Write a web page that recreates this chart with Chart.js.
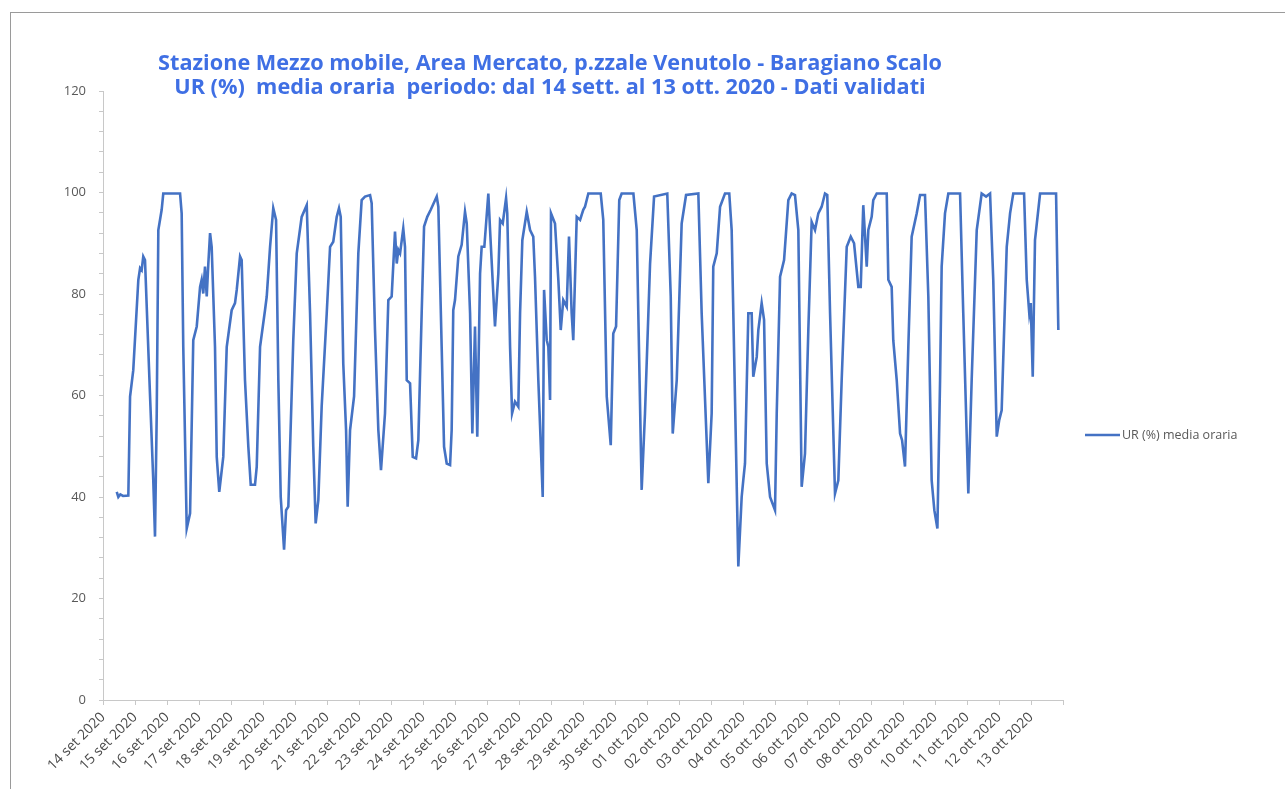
<!DOCTYPE html>
<html lang="it">
<head>
<meta charset="UTF-8" />
<title>UR (%) media oraria - Baragiano Scalo</title>
<script src="https://cdn.jsdelivr.net/npm/chart.js"></script>
<style>
  html, body { margin: 0; padding: 0; background: #fff; overflow: hidden; }
  #wrap { position: relative; width: 1285px; height: 789px; }
  #bordo { position: absolute; left: 10px; top: 12px; width: 1300px; height: 800px;
           border-top: 1px solid #9a9a9a; border-left: 1px solid #9a9a9a; pointer-events: none; }
</style>
</head>
<body>
<div id="wrap">
  <canvas id="grafico" width="1285" height="789"></canvas>
  <div id="bordo"></div>
</div>

<script>
// etichette giornaliere asse x (una ogni 24 ore)
const giorni = [
  "14 set 2020", "15 set 2020", "16 set 2020", "17 set 2020", "18 set 2020", "19 set 2020",
  "20 set 2020", "21 set 2020", "22 set 2020", "23 set 2020", "24 set 2020", "25 set 2020",
  "26 set 2020", "27 set 2020", "28 set 2020", "29 set 2020", "30 set 2020", "01 ott 2020",
  "02 ott 2020", "03 ott 2020", "04 ott 2020", "05 ott 2020", "06 ott 2020", "07 ott 2020",
  "08 ott 2020", "09 ott 2020", "10 ott 2020", "11 ott 2020", "12 ott 2020", "13 ott 2020"
];

// ore dall'inizio del 14 set (vertici)
const ore = [
  10.3, 11.5, 13, 15, 19, 20.3, 22.7, 26.5, 27.8, 29.0, 30.2, 31.5, 35.3, 37.7, 39.0, 40.3, 41.5, 44.0, 45.2, 57.8,
  59.0, 60.2, 62.8, 65.3, 67.7, 70.3, 72.8, 74.0, 75.2, 76.5, 77.8, 79.0, 80.3, 81.5, 84.0, 85.3, 87.2, 90.2, 92.8, 96.5,
  99.0, 100.3, 102.8, 104.0, 106.5, 109.0, 110.8, 114.0, 115.3, 117.8, 121.5, 122.8, 125.3, 127.7, 129.8, 131.5, 133.3, 135.8, 137.3, 139.0,
  142.7, 145.3, 149.0, 152.8, 155.3, 157.7, 159.5, 161.5, 164.0, 167.8, 170.3, 172.7, 175.3, 177.0, 178.3, 180.2, 182.3, 183.5, 185.3, 188.3,
  191.5, 194.0, 196.5, 200.3, 201.5, 204.0, 206.5, 208.5, 211.5, 214.0, 216.5, 219.0, 220.3, 221.5, 222.8, 225.2, 226.5, 227.8, 230.3, 232.3,
  234.8, 236.5, 239.0, 240.8, 243.2, 245.8, 250.3, 251.5, 254.0, 255.8, 257.8, 260.3, 261.5, 262.7, 264.0, 266.5, 269.0, 271.5, 272.8, 275.3,
  277.0, 279.0, 280.7, 282.8, 284.0, 286.0, 289.0, 290.3, 294.0, 296.5, 297.8, 299.8, 302.3, 303.2, 305.3, 306.8, 309.0, 311.5, 312.8, 314.5,
  317.8, 320.3, 322.7, 324.0, 326.5, 329.8, 330.8, 332.8, 334.0, 335.3, 336.0, 339.0, 341.5, 343.3, 345.2, 347.8, 349.5, 351.5, 352.7, 355.3,
  357.8, 360.2, 361.5, 364.0, 373.3, 375.2, 377.8, 380.8, 382.7, 384.8, 387.2, 389.0, 397.8, 400.3, 404.0, 406.5, 410.3, 413.3, 423.2, 425.8,
  427.3, 430.3, 434.0, 437.3, 446.5, 449.0, 454.0, 456.5, 457.7, 460.3, 462.8, 466.5, 469.7, 471.5, 476.5, 479.0, 480.2, 481.5, 484.0, 486.5,
  487.7, 490.3, 491.5, 494.0, 495.8, 497.8, 500.3, 504.0, 505.3, 507.8, 510.8, 514.0, 516.5, 519.0, 521.5, 524.0, 526.5, 529.0, 531.5, 534.0,
  536.5, 539.0, 541.5, 543.2, 545.3, 549.0, 551.5, 554.0, 557.8, 560.8, 563.3, 566.5, 568.3, 570.2, 572.8, 574.0, 576.5, 577.7, 580.3, 587.8,
  589.0, 591.5, 592.7, 595.3, 597.8, 599.3, 601.5, 604.0, 606.5, 610.3, 612.8, 616.5, 619.0, 621.5, 623.5, 625.8, 627.8, 629.0, 631.5, 634.0,
  642.8, 645.2, 649.0, 651.5, 655.3, 659.0, 662.3, 665.3, 667.7, 670.3, 672.2, 674.0, 677.8, 680.3, 682.7, 690.8, 692.8, 694.7, 695.8, 697.3,
  699.0, 702.8, 714.8, 716.5
];

// UR (%) media oraria
const ur = [
  41.0, 40.0, 40.5, 40.2, 40.3, 59.8, 65.0, 82.8, 85.1, 84.7, 87.4, 86.7, 59.8, 43.3, 32.2, 56.5, 92.6, 96.6, 99.8, 99.8,
  95.9, 69.6, 33.8, 36.8, 70.9, 73.6, 81.4, 82.8, 80.1, 85.4, 79.5, 86.0, 92.0, 89.3, 69.6, 47.9, 41.0, 47.9, 69.6, 76.8,
  78.2, 80.8, 87.4, 86.7, 63.0, 49.9, 42.4, 42.4, 46.0, 69.6, 76.8, 79.5, 89.3, 96.9, 94.6, 63.0, 40.0, 29.6, 37.4, 38.1,
  70.9, 88.0, 95.2, 97.5, 76.2, 49.9, 34.8, 39.4, 57.8, 76.2, 89.3, 90.3, 95.2, 96.9, 95.2, 66.3, 53.2, 38.1, 53.2, 59.8,
  88.0, 98.5, 99.2, 99.5, 97.9, 72.9, 53.2, 45.3, 56.5, 78.8, 79.5, 92.3, 86.0, 88.7, 88.0, 92.9, 89.3, 63.0, 62.4, 47.9,
  47.6, 51.2, 76.2, 93.3, 95.2, 96.6, 99.2, 97.2, 69.6, 49.9, 46.6, 46.3, 53.2, 76.8, 78.8, 87.4, 89.7, 96.2, 93.9, 76.2,
  52.5, 73.6, 51.9, 84.0, 89.3, 89.3, 99.8, 92.6, 73.6, 84.0, 94.6, 93.9, 98.9, 95.9, 69.6, 56.5, 58.8, 57.8, 76.2, 90.6,
  96.2, 92.6, 91.3, 83.4, 63.0, 40.0, 80.8, 70.9, 69.6, 59.1, 95.9, 93.9, 82.8, 72.9, 78.8, 77.5, 91.3, 76.2, 70.9, 95.2,
  94.6, 96.6, 97.2, 99.8, 99.8, 94.6, 59.8, 50.2, 72.2, 73.6, 98.5, 99.8, 99.8, 92.6, 41.4, 56.5, 86.0, 99.2, 99.8, 79.5,
  52.5, 63.0, 93.9, 99.5, 99.8, 76.2, 42.7, 56.5, 85.4, 88.0, 97.2, 99.8, 99.8, 92.6, 26.3, 40.0, 43.3, 46.6, 76.2, 76.2,
  63.7, 67.6, 72.9, 78.2, 74.9, 46.6, 40.0, 37.4, 56.5, 83.4, 86.7, 98.5, 99.8, 99.5, 92.6, 42.0, 48.6, 72.9, 94.2, 92.6,
  95.9, 97.2, 99.8, 99.5, 76.2, 40.7, 43.3, 63.0, 89.3, 91.3, 90.0, 81.4, 81.4, 97.5, 85.4, 92.6, 95.2, 98.5, 99.8, 99.8,
  82.8, 81.4, 70.9, 63.0, 52.5, 51.2, 46.0, 69.6, 91.3, 95.9, 99.5, 99.5, 79.5, 43.3, 37.4, 33.8, 63.0, 85.4, 95.9, 99.8,
  99.8, 76.2, 40.7, 63.0, 92.6, 99.8, 99.2, 99.8, 82.8, 51.9, 55.2, 57.1, 89.3, 95.9, 99.8, 99.8, 82.8, 76.2, 78.2, 63.7,
  90.6, 99.8, 99.8, 72.9
];

const titolo = [
  "Stazione Mezzo mobile, Area Mercato, p.zzale Venutolo - Baragiano Scalo",
  "UR (%)  media oraria  periodo: dal 14 sett. al 13 ott. 2020 - Dati validati"
];
const nomeSerie = "UR (%) media oraria";
const BLU = "#4472c4";
const GRIGIO = "#595959";
const FONT = '"Open Sans", "Noto Sans", sans-serif';

// titolo e legenda disegnati sopra il grafico
const cornice = {
  id: "cornice",
  afterDraw(chart) {
    const ctx = chart.ctx;
    ctx.save();
    ctx.textAlign = "center";
    ctx.textBaseline = "middle";
    ctx.fillStyle = "#3f6fe4";
    ctx.font = "bold 18px " + FONT;
    const size = 18 * 784 / ctx.measureText(titolo[0]).width;
    ctx.font = "bold " + size.toFixed(2) + "px " + FONT;
    ctx.fillText(titolo[0], 550, 64);
    ctx.fillText(titolo[1], 550, 88);

    // legenda a destra
    ctx.strokeStyle = BLU;
    ctx.lineWidth = 2.5;
    ctx.beginPath();
    ctx.moveTo(1085, 435);
    ctx.lineTo(1120, 435);
    ctx.stroke();
    ctx.textAlign = "left";
    ctx.fillStyle = GRIGIO;
    ctx.font = "12.5px " + FONT;
    ctx.fillText(nomeSerie, 1122, 435);
    ctx.restore();
  }
};

new Chart(document.getElementById("grafico"), {
  type: "line",
  data: {
    datasets: [{
      label: nomeSerie,
      data: ore.map((h, i) => ({ x: h, y: ur[i] })),
      borderColor: BLU,
      borderWidth: 2.6,
      pointRadius: 0,
      tension: 0,
      fill: false
    }]
  },
  options: {
    responsive: false,
    animation: false,
    devicePixelRatio: 1,
    layout: { padding: { left: 0, top: 91, right: 222, bottom: 0 } },
    plugins: {
      legend: { display: false },
      title: { display: false },
      tooltip: { enabled: false }
    },
    scales: {
      x: {
        type: "linear",
        min: 0,
        max: 720,
        afterFit: (s) => { s.height = 89; },
        ticks: {
          stepSize: 24,
          autoSkip: false,
          minRotation: 45,
          maxRotation: 45,
          padding: 4,
          color: "#4a4a4a",
          font: { family: FONT, size: 14 },
          callback: (v) => giorni[v / 24] || ""
        },
        grid: { drawOnChartArea: false, tickLength: 5, color: "#c8c8c8" },
        border: { color: "#c8c8c8", width: 1 }
      },
      y: {
        min: 0,
        max: 120,
        afterFit: (s) => { s.width = 103; },
        ticks: {
          stepSize: 4,
          autoSkip: false,
          padding: 13,
          color: GRIGIO,
          font: { family: FONT, size: 13 },
          callback: (v) => (v % 20 === 0 ? v : "")
        },
        grid: { drawOnChartArea: false, tickLength: 4, color: "#c8c8c8" },
        border: { color: "#c8c8c8", width: 1 }
      }
    }
  },
  plugins: [cornice]
});
</script>
</body>
</html>
